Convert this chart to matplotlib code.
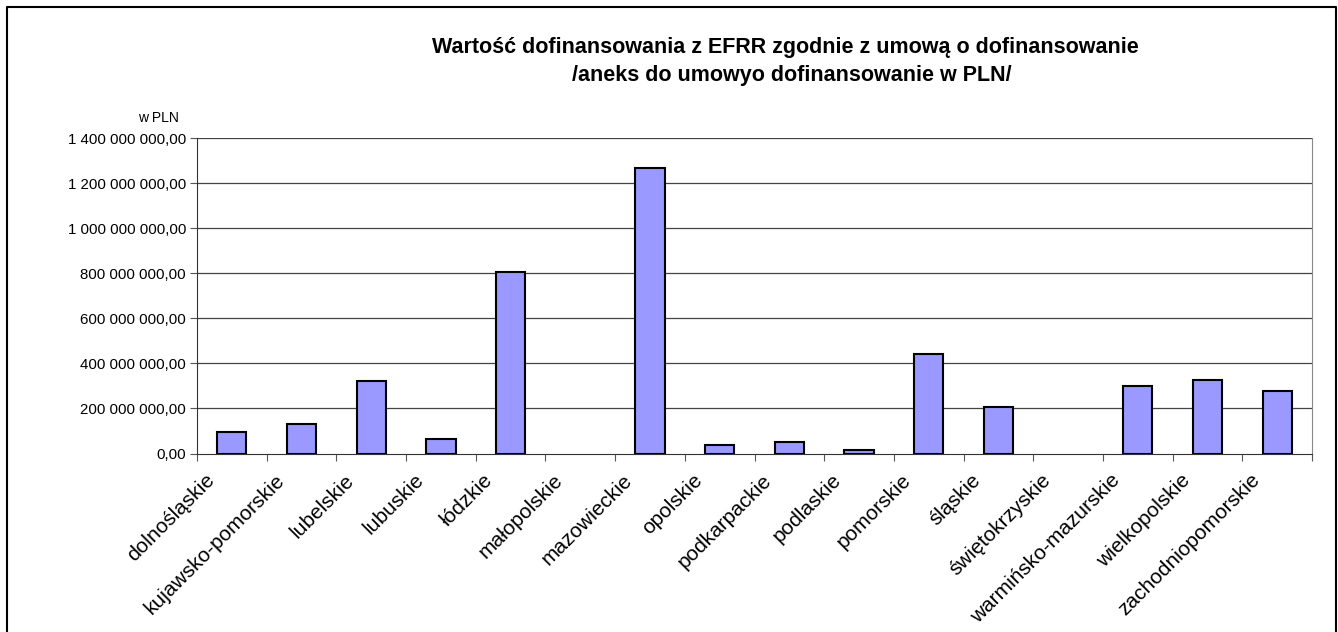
import matplotlib.pyplot as plt
import matplotlib.transforms as mtransforms
import numpy as np

plt.rcParams['font.family'] = ['Liberation Sans', 'DejaVu Sans']

# województwa
regiony = ['dolnośląskie', 'kujawsko-pomorskie', 'lubelskie', 'lubuskie', 'łódzkie',
           'małopolskie', 'mazowieckie', 'opolskie', 'podkarpackie', 'podlaskie',
           'pomorskie', 'śląskie', 'świętokrzyskie', 'warmińsko-mazurskie',
           'wielkopolskie', 'zachodniopomorskie']

# wartość dofinansowania w PLN
wartosci = [96e6, 131e6, 321e6, 63e6, 805e6,
            0, 1265e6, 38e6, 50e6, 16e6,
            441e6, 208e6, 0, 301e6,
            324e6, 276e6]

y_ticks = np.arange(0, 1.4e9 + 1, 2e8)

tytul1 = 'Wartość dofinansowania z EFRR zgodnie z umową o dofinansowanie'
tytul2 = '/aneks do umowyo dofinansowanie w PLN/'


def fmt_pln(v):
    s = f'{v:,.2f}'
    return s.replace(',', ' ').replace('.', ',')


fig = plt.figure(figsize=(13.38, 6.32), dpi=100)
ax = fig.add_axes([197 / 1338, 1 - 453.5 / 632, (1312 - 197) / 1338, (453.5 - 138) / 632])

x = np.arange(len(regiony))
lw = [1.5 if v > 0 else 0 for v in wartosci]
ax.bar(x, wartosci, width=0.42, color='#9999FF', edgecolor='black', linewidth=lw, zorder=3)

ax.set_xlim(-0.5, len(regiony) - 0.5)
ax.set_ylim(0, 1.4e9)
ax.set_yticks(y_ticks)
ax.set_yticklabels([fmt_pln(v) for v in y_ticks], fontsize=10.8)
for v in y_ticks[1:]:
    ax.axhline(v, color='#444444', linewidth=0.9, zorder=1)

# ticks between categories
ax.set_xticks(np.arange(-0.5, len(regiony), 1.0))
ax.set_xticklabels([])
ax.tick_params(axis='x', direction='out', length=5, color='#555555')
ax.tick_params(axis='y', direction='out', length=5, color='#555555', pad=3)

offset = mtransforms.ScaledTranslation(-0.27, -0.17, fig.dpi_scale_trans)
for i, r in enumerate(regiony):
    ax.text(i, 0, r, rotation=45, ha='right', va='top', rotation_mode='anchor',
            fontsize=15, transform=ax.get_xaxis_transform() + offset)

ax.spines['top'].set_visible(False)
ax.spines['right'].set_color('#888888')
ax.spines['left'].set_color('#333333')
ax.spines['bottom'].set_color('#333333')

fig.text(158 / 1338, 1 - 118 / 632, 'w PLN', fontsize=10, ha='center', va='center')
fig.text(785 / 1338, 1 - 48 / 632, tytul1, fontsize=15.5, fontweight='bold', ha='center', va='center')
fig.text(792 / 1338, 1 - 75 / 632, tytul2, fontsize=15.5, fontweight='bold', ha='center', va='center')

# ramka wykresu
fig.add_artist(plt.Line2D([7 / 1338, 7 / 1338, 1336 / 1338, 1336 / 1338],
                          [-0.1, 1 - 7 / 632, 1 - 7 / 632, -0.1],
                          transform=fig.transFigure, color='black', linewidth=1.5))

fig.savefig('out.png', dpi=100)
